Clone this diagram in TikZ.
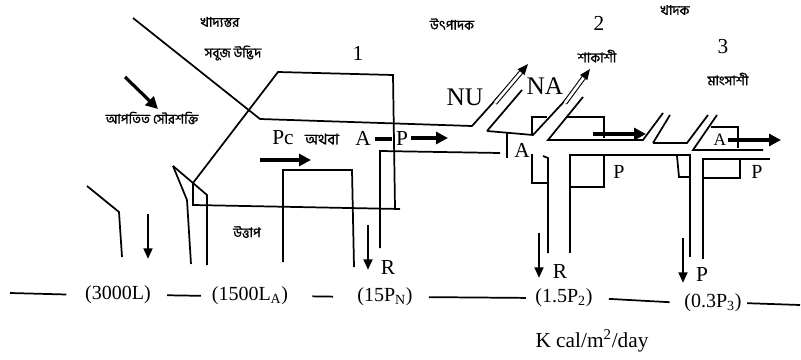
\documentclass[tikz,border=0pt]{standalone}
\usepackage{fontspec}
\setmainfont{Liberation Serif}
\newfontfamily\bnfont[Script=Bengali,FakeBold=1.2]{Hind Siliguri}
\usetikzlibrary{arrows.meta}
\tikzset{
  >=Latex,
  wall/.style={draw=black,line width=1.3pt,line join=miter},
  rule/.style={draw=black,line width=1.3pt},
  heavy/.style={-{Triangle[length=9pt,width=9pt]},line width=3pt,draw=black},
  drop/.style={-{Triangle[length=8pt,width=6.5pt]},line width=2pt,draw=black},
  tube/.style={-{Triangle[length=8pt,width=6.5pt]},line width=0.8pt,double=white,double distance=2pt,draw=black},
  bn/.style={font=\bnfont\fontsize{10}{11}\selectfont,inner sep=0pt},
  lbl/.style={font=\fontsize{16}{18}\selectfont,inner sep=0pt},
  big/.style={font=\fontsize{19}{21}\selectfont,inner sep=0pt},
  val/.style={font=\fontsize{15}{17}\selectfont,inner sep=0pt}
}
\begin{document}
\begin{tikzpicture}[x=0.75pt,y=-0.75pt]
  \useasboundingbox (0,0) rectangle (801,360);
  % producer: sun ray, leaf and level box
  \draw[wall] (133,18) -- (260,119) -- (472,126) -- (508,86);
  \draw[wall] (87,186) -- (119,212) -- (122,257);
  \draw[wall] (173,166) -- (187,200) -- (191,264);
  \draw[wall] (173,166) -- (193,183) -- (278,72) -- (393,75) -- (395,208);
  \draw[wall] (193,183) -- (193,205) -- (400,209);
  \draw[wall] (193,183) -- (207,195) -- (207,265);
  \draw[wall] (283,262) -- (283,170) -- (352,170) -- (354,267);
  \draw[wall] (380,248) -- (380,151) -- (500,153);
  % herbivore branch
  \draw[wall] (487,131) -- (522,90);
  \draw[wall] (487,131) -- (533,135) -- (572,93);
  \draw[wall] (532,135) -- (532,117) -- (547,117);
  \draw[wall] (507,133) -- (507,158);
  \draw[wall] (583,97) -- (548,140) -- (643,140) -- (663,113);
  \draw[wall] (566,117) -- (604,117) -- (604,138);
  \draw[wall] (532,154) -- (532,183) -- (548,183);
  \draw[wall] (543,156) -- (548,158) -- (548,253);
  \draw[wall] (570,253) -- (570,155) -- (690,155) -- (690,257);
  \draw[wall] (570,187) -- (604,187) -- (604,155);
  % carnivore branch
  \draw[wall] (653,143) -- (670,115);
  \draw[wall] (653,143) -- (687,143) -- (708,115);
  \draw[wall] (717,115) -- (693,150) -- (763,150);
  \draw[wall] (711,127) -- (738,127) -- (738,148);
  \draw[wall] (677,156) -- (679,177) -- (690,177);
  \draw[wall] (703,259) -- (703,159) -- (770,159);
  \draw[wall] (703,178) -- (740,178) -- (740,159);
  % flows
  \draw[heavy,line width=2.4pt] (125,77) -- (158,109);
  \draw[heavy] (260,160) -- (311,160);
  \draw[line width=3.5pt] (375,139) -- (392,139);
  \draw[heavy] (411,138) -- (448,138);
  \draw[heavy] (593,134) -- (646,134);
  \draw[heavy] (728,140) -- (781,140);
  \draw[tube] (495,103) -- (528,64);
  \draw[tube] (565,103) -- (590,69);
  \draw[drop] (148,214) -- (148,259);
  \draw[drop] (368,225) -- (368,270);
  \draw[drop] (539,233) -- (539,278);
  \draw[drop] (683,238) -- (683,283);
  % labels
  \node[bn] (trophic) at (220,22) {খাদ্যস্তর};
  \node[bn] (plant) at (233,53) {সবুজ উদ্ভিদ};
  \node[bn] (solar) at (152,118) {আপতিত সৌরশক্তি};
  \node[bn] (heat) at (247,232) {উত্তাপ};
  \node[bn] (producer) at (452,24) {উৎপাদক};
  \node[bn] (consumer) at (675,10) {খাদক};
  \node[bn] (herbivore) at (597,56) {শাকাশী};
  \node[bn] (carnivore) at (728,79) {মাংসাশী};
  \node[lbl] (lvl1) at (358,53) {1};
  \node[lbl] (lvl2) at (599,23) {2};
  \node[lbl] (lvl3) at (723,47) {3};
  \node[big] (nu) at (465,97) {NU};
  \node[big] (na) at (545,86) {NA};
  \node[lbl] (pc) at (283,138) {Pc};
  \node[bn,font=\bnfont\fontsize{11}{12}\selectfont] (or) at (322,139) {অথবা};
  \node[lbl] (a0) at (363,138) {A};
  \node[lbl] (pout) at (402,139) {P};
  \node[lbl] (a1) at (522,150) {A};
  \node[lbl,font=\fontsize{13}{15}\selectfont] (a2) at (720,140) {A};
  \node[val] (p1) at (619,172) {P};
  \node[val] (p2) at (757,172) {P};
  \node[lbl] (r1) at (388,268) {R};
  \node[lbl] (r2) at (560,272) {R};
  \node[lbl] (p3) at (702,275) {P};
  % energy values
  \coordinate (west) at (10,293);
  \coordinate (east) at (800,305);
  \node[val] (v1) at (118,295) {(3000L)};
  \node[val] (v2) at (250,296) {(1500L\textsubscript{A})};
  \node[val] (v3) at (385,297) {(15P\textsubscript{N})};
  \node[val] (v4) at (564,298) {(1.5P\textsubscript{2})};
  \node[val] (v5) at (713,303) {(0.3P\textsubscript{3})};
  \node[val,font=\fontsize{16}{18}\selectfont] (unit) at (592,341) {K cal/m\textsuperscript{2}/day};
  \draw[rule,shorten >=14pt] (west) -- (v1.west);
  \draw[rule,shorten <=12pt,shorten >=8pt] (v1.east) -- (v2.west);
  \draw[rule,shorten <=18pt,shorten >=18pt] (v2.east) -- (v3.west);
  \draw[rule,shorten <=12pt,shorten >=7pt] (v3.east) -- (v4.west);
  \draw[rule,shorten <=12pt,shorten >=11pt] (v4.east) -- (v5.west);
  \draw[rule,shorten <=4pt] (v5.east) -- (east);
\end{tikzpicture}
\end{document}
